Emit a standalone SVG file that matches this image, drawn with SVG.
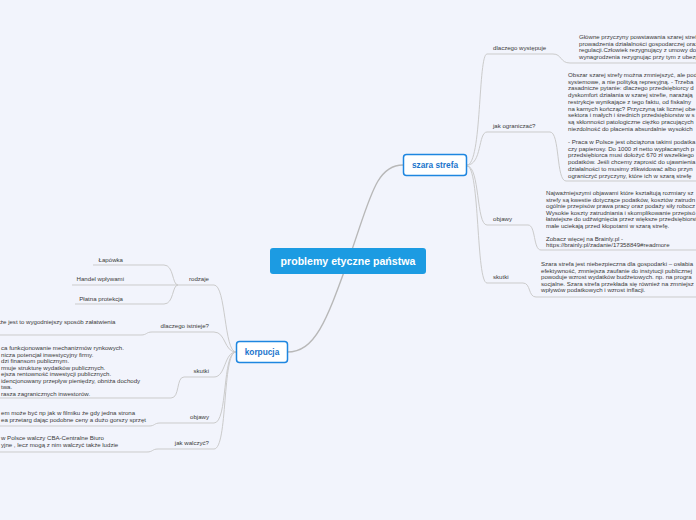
<svg xmlns="http://www.w3.org/2000/svg" width="696" height="520" viewBox="0 0 696 520">
<style>
.bg{fill:#f2f4fc}
.main{fill:none;stroke:#b8b8b8;stroke-width:1.4}
.br{fill:none;stroke:#cbcbcb;stroke-width:1}
.t{font-family:"Liberation Sans",Arial,sans-serif;font-size:6.1px;fill:#3a3a3a}
.e{text-anchor:end}
.node rect{fill:#ffffff;stroke:#1e86e0;stroke-width:1.5}
.node text{font-family:"Liberation Sans",Arial,sans-serif;font-weight:bold;font-size:8.3px;fill:#1a74cc;text-anchor:middle}
</style>
<rect class="bg" x="0" y="0" width="696" height="520"/>
<g id="connectors">
<path class="main" d="M348,261 C370,200 375,165 403,165"/>
<path class="main" d="M348,261 C326,322 315,352 287,352"/>
<path class="br" d="M467,165 C482,165 478,54 487,54 H553 C562,54 560,63 570,63 H700"/>
<path class="br" d="M467,165 C482,165 478,132 487,132 H550 C560,132 556,181 566,181 H700"/>
<path class="br" d="M467,166 C480,166 476,225 487,225 H528 C536,225 533,250 541,250 H700"/>
<path class="br" d="M467,166 C480,166 476,283 487,283 H523 C531,283 528,297 536,297 H700"/>
<path class="br" d="M236,352 C224,352 226,285 214,285 H178"/>
<path class="br" d="M178,285 C172,285 174,265 164,265 H93"/>
<path class="br" d="M178,285 H72"/>
<path class="br" d="M178,285 C172,285 174,304 164,304 H75"/>
<path class="br" d="M236,352 C224,352 226,332 214,332 H152 C146,332 147,335 141,335 H-5"/>
<path class="br" d="M236,352 C224,352 226,377 214,377 H184 C176,377 180,398 171,398 H-5"/>
<path class="br" d="M236,352 C222,352 228,423 214,423 H160 C154,423 155,426 149,426 H-5"/>
<path class="br" d="M236,352 C222,352 228,449 214,449 H158 C152,449 153,452 147,452 H-5"/>
</g>
<g id="center">
<rect x="270" y="248" width="156" height="26" rx="3" fill="#1c9be2"/>
<text x="348" y="265" font-family="Liberation Sans,Arial,sans-serif" font-weight="bold" font-size="10.6" fill="#ffffff" text-anchor="middle">problemy etyczne państwa</text>
</g>
<g id="szara-strefa" class="node">
<rect x="403.5" y="154.5" width="63" height="21" rx="3"/>
<text x="435" y="168">szara strefa</text>
</g>
<g id="korpucja" class="node">
<rect x="236.5" y="341.5" width="51" height="21" rx="3"/>
<text x="262" y="355">korpucja</text>
</g>
<g id="dlaczego-wystepuje">
<text class="t" x="493" y="50">dlaczego występuje</text>
</g>
<g id="dlaczego-wystepuje-leaf">
<text class="t" x="579" y="39">Główne przyczyny powstawania szarej strefy</text>
<text class="t" x="579" y="45.5">prowadzenia działalności gospodarczej oraz</text>
<text class="t" x="579" y="52">regulacji.Człowiek rezygnujący z umowy do</text>
<text class="t" x="579" y="58.5">wynagrodzenia rezygnując przy tym z ubezp</text>
</g>
<g id="jak-ograniczac">
<text class="t" x="493" y="128">jak ograniczać?</text>
</g>
<g id="jak-ograniczac-leaf">
<text class="t" x="568" y="77">Obszar szarej strefy można zmniejszyć, ale pod</text>
<text class="t" x="568" y="83.7">systemowe, a nie polityką represyjną. - Trzeba</text>
<text class="t" x="568" y="90.4">zasadnicze pytanie: dlaczego przedsiębiorcy d</text>
<text class="t" x="568" y="97.1">dyskomfort działania w szarej strefie, narażają</text>
<text class="t" x="568" y="103.8">restrykcje wynikające z tego faktu, od fiskalny</text>
<text class="t" x="568" y="110.5">na karnych kończąc? Przyczyną tak licznej obe</text>
<text class="t" x="568" y="117.2">sektora i małych i średnich przedsiębiorstw w s</text>
<text class="t" x="568" y="123.9">są skłonności patologiczne ciężko pracujących</text>
<text class="t" x="568" y="130.6">niezdolność do płacenia absurdalnie wysokich</text>
<text class="t" x="568" y="144">- Praca w Polsce jest obciążona takimi podatka</text>
<text class="t" x="568" y="150.7">czy papierosy. Do 1000 zł netto wypłacanych p</text>
<text class="t" x="568" y="157.4">przedsiębiorca musi dołożyć 670 zł wszelkiego</text>
<text class="t" x="568" y="164.1">podatków. Jeśli chcemy zaprosić do ujawnienia</text>
<text class="t" x="568" y="170.8">działalności to musimy zlikwidować albo przyn</text>
<text class="t" x="568" y="177.5">ograniczyć przyczyny, które ich w szarą strefę</text>
</g>
<g id="objawy-r">
<text class="t" x="493" y="221">objawy</text>
</g>
<g id="objawy-r-leaf">
<text class="t" x="546" y="195">Najważniejszymi objawami które kształtują rozmiary sz</text>
<text class="t" x="546" y="201.5">strefy są kwestie dotyczące podatków, kosztów zatrudn</text>
<text class="t" x="546" y="208">ogólnie przepisów prawa pracy oraz podaży siły robocz</text>
<text class="t" x="546" y="214.5">Wysokie koszty zatrudniania i skomplikowanie przepisó</text>
<text class="t" x="546" y="221">łatwiejsze do udźwignięcia przez większe przedsiębiorst</text>
<text class="t" x="546" y="227.5">małe uciekają przed kłopotami w szarą strefę.</text>
<text class="t" x="546" y="240.5">Zobacz więcej na Brainly.pl -</text>
<text class="t" x="546" y="247">https://brainly.pl/zadanie/17358849#readmore</text>
</g>
<g id="skutki-r">
<text class="t" x="493" y="279">skutki</text>
</g>
<g id="skutki-r-leaf">
<text class="t" x="541" y="266">Szara strefa jest niebezpieczna dla gospodarki – osłabia</text>
<text class="t" x="541" y="272.5">efektywność, zmniejsza zaufanie do instytucji publicznej</text>
<text class="t" x="541" y="279">powoduje wzrost wydatków budżetowych. np. na progra</text>
<text class="t" x="541" y="285.5">socjalne. Szara strefa przekłada się również na zmniejsz</text>
<text class="t" x="541" y="292">wpływów podatkowych i wzrost inflacji.</text>
</g>
<g id="rodzaje">
<text class="t e" x="209" y="281">rodzaje</text>
</g>
<g id="lapowka"><text class="t e" x="123" y="262">Łapówka</text></g>
<g id="handel"><text class="t e" x="124" y="281">Handel wpływami</text></g>
<g id="platna"><text class="t e" x="123" y="301">Płatna protekcja</text></g>
<g id="dlaczego-istnieje">
<text class="t e" x="209" y="328">dlaczego istnieje?</text>
</g>
<g id="dlaczego-istnieje-leaf">
<text class="t" x="0" y="324">że jest to wygodniejszy sposób załatwienia</text>
</g>
<g id="skutki-l">
<text class="t e" x="209" y="373">skutki</text>
</g>
<g id="skutki-l-leaf">
<text class="t" x="1" y="350">ca funkcjonowanie mechanizmów rynkowych.</text>
<text class="t" x="1" y="356.5">nicza potencjał inwestycyjny firmy.</text>
<text class="t" x="1" y="363">dzi finansom publicznym.</text>
<text class="t" x="1" y="369.5">rmuje strukturę wydatków publicznych.</text>
<text class="t" x="1" y="376">ejsza rentowność inwestycji publicznych.</text>
<text class="t" x="1" y="382.5">idencjonowany przepływ pieniędzy, obniża dochody</text>
<text class="t" x="1" y="389">twa.</text>
<text class="t" x="1" y="395.5">rasza zagranicznych inwestorów.</text>
</g>
<g id="objawy-l">
<text class="t e" x="209" y="419">objawy</text>
</g>
<g id="objawy-l-leaf">
<text class="t" x="1" y="415">em może być np jak w filmiku że gdy jedna strona</text>
<text class="t" x="1" y="421.5">ea przetarg dając podobne ceny a dużo gorszy sprzęt</text>
</g>
<g id="jak-walczyc">
<text class="t e" x="209" y="445">jak walczyć?</text>
</g>
<g id="jak-walczyc-leaf">
<text class="t" x="1" y="440">w Polsce walczy CBA-Centralne Biuro</text>
<text class="t" x="1" y="447">yjne , lecz mogą z nim walczyć także ludzie</text>
</g>
</svg>
